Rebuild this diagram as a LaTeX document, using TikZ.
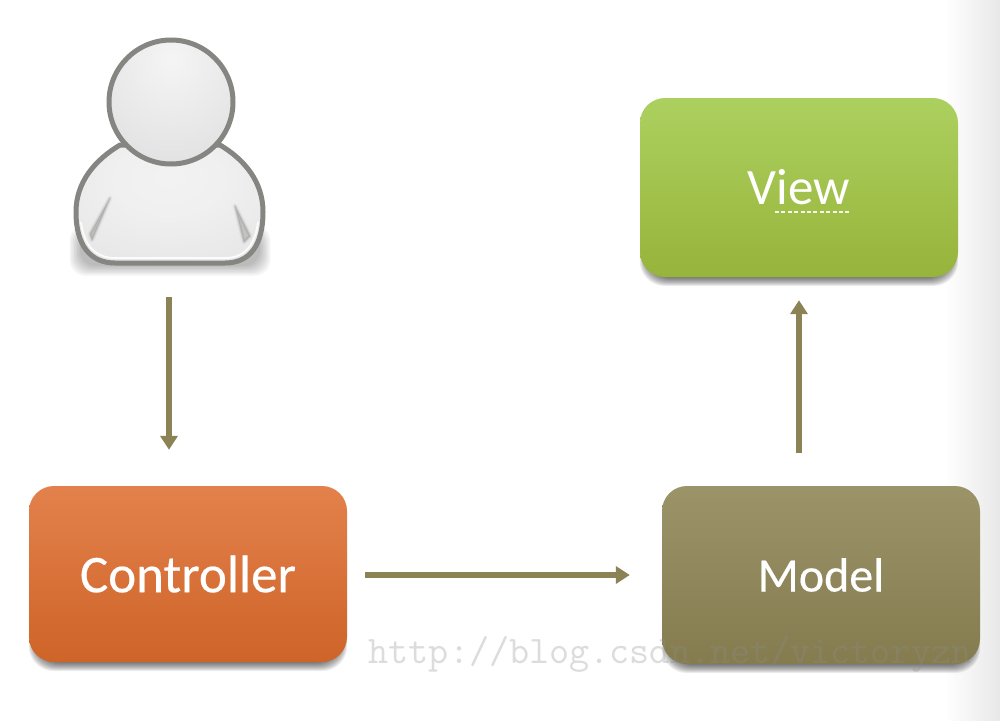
\documentclass[tikz,border=0pt]{standalone}
\usepackage{fontspec}
\setmainfont{Carlito}
\newfontfamily\semib[FakeBold=0.35]{Carlito}
\usetikzlibrary{arrows.meta}
\definecolor{arrowcol}{HTML}{8B8255}
\definecolor{ctrltop}{HTML}{E3814C}
\definecolor{ctrlbot}{HTML}{CE6428}
\definecolor{viewtop}{HTML}{ACD05F}
\definecolor{viewbot}{HTML}{97B43B}
\definecolor{modeltop}{HTML}{9C9469}
\definecolor{modelbot}{HTML}{847C4F}
\definecolor{figline}{HTML}{858682}
\pgfdeclareradialshading{headball}{\pgfpoint{0bp}{18bp}}{
  color(0bp)=(white!96!black);
  color(10bp)=(white!94!black);
  color(35bp)=(white!89!black);
  color(60bp)=(white!84!black);
  color(100bp)=(white!84!black)}
\pgfdeclareradialshading{bodyball}{\pgfpoint{0bp}{12bp}}{
  color(0bp)=(white!95!black);
  color(15bp)=(white!94!black);
  color(45bp)=(white!89!black);
  color(100bp)=(white!86!black)}
\tikzset{
  mvcbox/.style={rounded corners=25pt,inner sep=0pt,minimum width=318pt,
    text=white,shading angle=0},
  flow/.style={draw=arrowcol,line width=5.5pt,-{Triangle[length=14pt,width=17pt]}},
  figure/.style={draw=figline,line width=5pt},
}
\newcommand{\softbox}[5]{%
  \foreach \g in {0,1,...,9}{
    \fill[black,opacity=#5,rounded corners=25pt] (#1+7-\g*.8,#2+30) rectangle (#3-7+\g*.8,#4+\g);
  }}
\begin{document}
\begin{tikzpicture}[x=1pt,y=-1pt]
\useasboundingbox (0,0) rectangle (1000,720);
\fill[white] (0,0) rectangle (1000,720);
\shade[left color=white,right color=black!9] (945,0) rectangle (1000,720);

% soft shadows
\softbox{29}{486}{347}{662}{.075}
\softbox{640}{98}{958}{277}{.075}
\softbox{662}{486}{980}{664}{.075}
\foreach \g in {0,1,...,7}{
  \fill[black,opacity=.035,rounded corners=16pt] (80-\g*1.5,232-\g) rectangle (260+\g*1.5,266+\g*1.4);
}

% boxes
\node[mvcbox,minimum height=176pt,top color=ctrltop,bottom color=ctrlbot,font=\semib\fontsize{53}{56}\selectfont] (ctrl) at (188,574) {Controller};
\node[mvcbox,minimum height=179pt,top color=viewtop,bottom color=viewbot,font=\fontsize{51}{54}\selectfont] (view) at (799,187.5) {View};
\node[mvcbox,minimum height=178pt,top color=modeltop,bottom color=modelbot,font=\semib\fontsize{48}{52}\selectfont] (model) at (821,575) {Model};
\draw[white,line width=1.6pt,dash pattern=on 4pt off 2.4pt,opacity=.9] (775,212) -- (849,212);

% person
\node[minimum width=192pt,minimum height=225pt,inner sep=0pt] (user) at (169,152.5) {};
\shade[shading=bodyball,figure]
  (120,145) .. controls (95,160) and (76,182) .. (76,212)
  .. controls (76,245) and (90,263) .. (115,263) -- (225,263)
  .. controls (250,263) and (263,245) .. (263,212)
  .. controls (263,182) and (245,160) .. (220,145) -- cycle;
\draw[white,line width=1.8pt,opacity=.9]
  (81,222) .. controls (84,246) and (96,258) .. (115,258) -- (225,258)
  .. controls (244,258) and (255,246) .. (258,222);
\foreach \o/\w in {.07/5,.12/3,.2/1.5}{
  \fill[figline,opacity=\o,line join=round,draw=figline,line width=\w pt]
    (110,198) -- (90,234) -- (92,240) -- cycle;
  \fill[figline,opacity=\o,line join=round,draw=figline,line width=\w pt]
    (235,206) -- (244,242) -- (250,236) -- cycle;
}
\shade[shading=headball,figure] (171,102) circle[radius=62pt];

% connectors
\draw[flow,shorten <=32pt,shorten >=36pt] (user.south) -- (user.south |- ctrl.north);
\draw[flow,shorten <=33pt,shorten >=23pt] (view.south |- model.north) -- (view.south);
\draw[flow,shorten <=18pt,shorten >=32pt] (ctrl.east |- model.west) -- (model.west);

% watermark
\node[anchor=center,inner sep=0pt,text=black!45,opacity=.3,font=\ttfamily\fontsize{39}{41}\selectfont] (mark) at (670,654) {http://blog.csdn.net/victoryzn};
\end{tikzpicture}
\end{document}
